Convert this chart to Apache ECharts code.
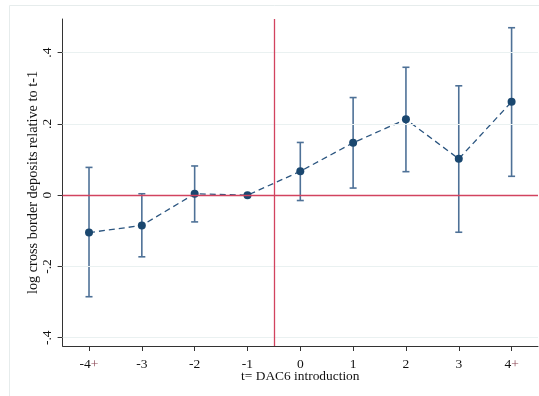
<!DOCTYPE html>
<html>
<head>
<meta charset="utf-8">
<script src="https://cdn.jsdelivr.net/npm/echarts@6/dist/echarts.min.js"></script>
<style>
html,body{margin:0;padding:0;background:#fff;}
#c{width:539px;height:396px;}
</style>
</head>
<body>
<div id="c"></div>
<script>
// Event-time categories (numeric position) and labels
const periods = [-4, -3, -2, -1, 0, 1, 2, 3, 4];
const periodLabels = ['-4+', '-3', '-2', '-1', '0', '1', '2', '3', '4+'];
// Point estimates
const estimates = [-0.105, -0.085, 0.004, 0.0, 0.067, 0.147, 0.213, 0.102, 0.262];
// Confidence interval bounds (null = no interval, reference period)
const ciLower = [-0.285, -0.173, -0.075, null, -0.015, 0.020, 0.066, -0.104, 0.053];
const ciUpper = [0.078, 0.004, 0.082, null, 0.148, 0.274, 0.359, 0.307, 0.470];
// Y tick values and labels
const yTicks = [-0.4, -0.2, 0, 0.2, 0.4];
const yTickLabels = ['-.4', '-.2', '0', '.2', '.4'];
const gridValues = [-0.4, -0.2, 0.2, 0.4];

const FONT = '"Liberation Serif", "Times New Roman", serif';
const chart = echarts.init(document.getElementById('c'), null, {renderer: 'canvas'});

const ciData = periods.map((p, i) => [p, ciLower[i], ciUpper[i]]).filter(d => d[1] !== null);
const pointData = periods.map((p, i) => [p, estimates[i]]);

chart.setOption({
  backgroundColor: '#ffffff',
  animation: false,
  graphic: [{
    type: 'rect',
    shape: {x: 9.5, y: 5.5, width: 560, height: 420},
    style: {fill: 'none', stroke: '#e6ecec', lineWidth: 1},
    silent: true, z: -10
  }],
  grid: {left: 62.6, top: 19, right: 1, bottom: 50, containLabel: false},
  xAxis: {
    type: 'value', min: -4.5, max: 4.5,
    axisLine: {show: true, onZero: false, lineStyle: {color: '#333', width: 1}},
    axisTick: {show: true, length: 5, lineStyle: {color: '#333'}, customValues: periods},
    axisLabel: {
      show: true, customValues: periods, margin: 11,
      fontFamily: FONT, fontSize: 13.5, color: '#111',
      formatter: v => {
        const i = periods.indexOf(Math.round(v));
        const s = i >= 0 ? periodLabels[i] : '';
        if (s.endsWith('+')) return s.slice(0, -1) + '{p|+}';
        return s;
      },
      rich: {p: {fontFamily: FONT, fontSize: 13.5, color: '#8a4452'}}
    },
    splitLine: {show: false},
    name: 't= DAC6 introduction', nameLocation: 'middle', nameGap: 24, nameMoveOverlap: false,
    nameTextStyle: {fontFamily: FONT, fontSize: 13.4, color: '#111'}
  },
  yAxis: {
    type: 'value', min: -0.4233, max: 0.4945,
    axisLine: {show: true, onZero: false, lineStyle: {color: '#333', width: 1}},
    axisTick: {show: true, length: 5, lineStyle: {color: '#333'}, customValues: yTicks},
    axisLabel: {
      show: true, customValues: yTicks, rotate: 90, margin: 8,
      fontFamily: FONT, fontSize: 13.5, color: '#111',
      formatter: v => {
        let best = 0, bd = 1e9;
        yTicks.forEach((t, i) => { const d = Math.abs(t - v); if (d < bd) { bd = d; best = i; } });
        return yTickLabels[best];
      }
    },
    splitLine: {show: false},
    name: 'log cross border deposits relative to t-1', nameLocation: 'middle', nameGap: 22, nameMoveOverlap: false,
    nameTextStyle: {fontFamily: FONT, fontSize: 14.3, color: '#111'}
  },
  series: [
    {
      type: 'line', data: [], silent: true, z: 1,
      markLine: {
        silent: true, symbol: 'none', label: {show: false}, animation: false,
        lineStyle: {color: '#eaf1f1', width: 1.2, type: 'solid'},
        data: gridValues.map(v => ({yAxis: v}))
      }
    },
    {
      type: 'line', data: [], silent: true, z: 2,
      markLine: {
        silent: true, symbol: 'none', label: {show: false}, animation: false,
        lineStyle: {color: '#d2435f', width: 1.3, type: 'solid'},
        data: [{yAxis: 0}, {xAxis: -0.5}]
      }
    },
    {
      type: 'custom', z: 3,
      data: ciData,
      renderItem: (params, api) => {
        const x = api.value(0);
        const lo = api.coord([x, api.value(1)]);
        const hi = api.coord([x, api.value(2)]);
        const hw = 3.5;
        const st = {stroke: '#4e7197', lineWidth: 1.6};
        return {
          type: 'group',
          children: [
            {type: 'line', shape: {x1: lo[0], y1: lo[1], x2: hi[0], y2: hi[1]}, style: st},
            {type: 'line', shape: {x1: lo[0] - hw, y1: lo[1], x2: lo[0] + hw, y2: lo[1]}, style: st},
            {type: 'line', shape: {x1: hi[0] - hw, y1: hi[1], x2: hi[0] + hw, y2: hi[1]}, style: st}
          ]
        };
      }
    },
    {
      type: 'line', z: 4,
      data: pointData,
      symbol: 'circle', symbolSize: 8,
      itemStyle: {color: '#1a476f', borderWidth: 0},
      lineStyle: {color: '#2c5680', width: 1.3, type: [6, 4]}
    }
  ]
});
</script>
</body>
</html>
